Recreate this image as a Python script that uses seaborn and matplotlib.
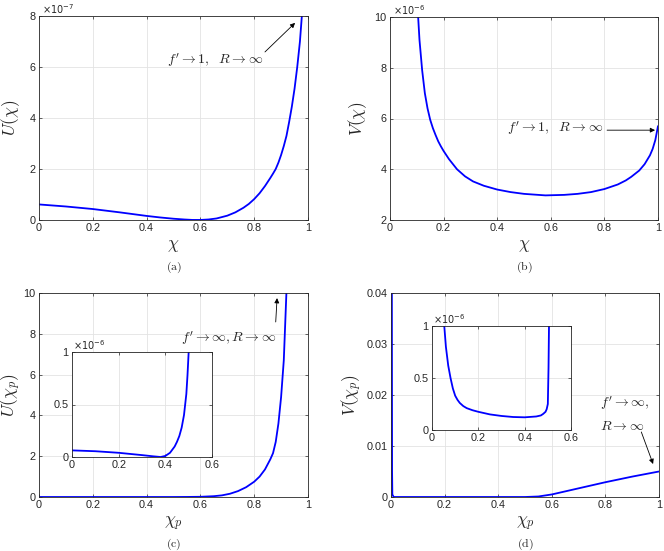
import numpy as np
import pandas as pd
import matplotlib
matplotlib.use('Agg')
import matplotlib.pyplot as plt
from matplotlib.ticker import FuncFormatter
import seaborn as sns

# ── data (y in the units shown on each axis) ────────────────────────────────
chi_a = [0, 0.1, 0.2, 0.3, 0.4, 0.45, 0.5, 0.54, 0.57, 0.6, 0.63, 0.66, 0.7,
         0.73, 0.76, 0.78, 0.8, 0.82, 0.84, 0.86, 0.87, 0.88, 0.89, 0.9, 0.91,
         0.92, 0.93, 0.94, 0.95, 0.96, 0.97, 0.975, 0.98]
U_a = [0.61, 0.53, 0.43, 0.3, 0.16, 0.1, 0.05, 0.02, 0.003, 0.002, 0.02, 0.06,
       0.17, 0.3, 0.48, 0.63, 0.82, 1.05, 1.33, 1.65, 1.82, 2.0, 2.25, 2.55,
       2.9, 3.3, 3.85, 4.45, 5.15, 6.0, 7.0, 7.7, 8.4]      # x 1e-7

chi_b = [0.105, 0.11, 0.12, 0.13, 0.14, 0.15, 0.16, 0.17, 0.18, 0.19, 0.2,
         0.22, 0.25, 0.28, 0.31, 0.35, 0.4, 0.45, 0.5, 0.58, 0.65, 0.7, 0.75,
         0.8, 0.85, 0.88, 0.9, 0.93, 0.95, 0.97, 0.98, 0.99, 1.0]
V_b = [10.0, 9.1, 7.9, 7.0, 6.4, 5.95, 5.62, 5.35, 5.1, 4.9, 4.72, 4.4, 4.0,
       3.72, 3.52, 3.35, 3.2, 3.1, 3.03, 2.97, 2.99, 3.03, 3.1, 3.22, 3.4,
       3.56, 3.7, 3.95, 4.2, 4.55, 4.8, 5.15, 5.7]          # x 1e-6

chi_c = [0, 0.5, 0.55, 0.6, 0.65, 0.68, 0.71, 0.74, 0.77, 0.8, 0.82, 0.84,
         0.85, 0.86, 0.87, 0.88, 0.89, 0.9, 0.91, 0.92]
U_c = [0, 0, 0.003, 0.01, 0.04, 0.08, 0.16, 0.29, 0.48, 0.75, 1.0, 1.35,
       1.6, 1.85, 2.15, 2.7, 3.6, 4.9, 6.7, 10.1]

chi_c_in = [0, 0.1, 0.2, 0.3, 0.35, 0.38, 0.4, 0.42, 0.44, 0.45, 0.46, 0.47,
            0.48, 0.49, 0.495, 0.5]
U_c_in = [0.063, 0.055, 0.04, 0.018, 0.006, 0.0, 0.01, 0.04, 0.1, 0.145, 0.2,
          0.28, 0.4, 0.6, 0.78, 1.0]                          # x 1e-6

chi_d = [0.003, 0.004, 0.005, 0.01, 0.3, 0.5, 0.55, 0.6, 0.65, 0.7, 0.8,
         0.9, 1.0]
V_d = [0.05, 0.005, 0.0005, 0.0, 0.0, 0.0, 0.0001, 0.0005, 0.0011, 0.0017,
       0.0029, 0.004, 0.005]

chi_d_in = [0.053, 0.06, 0.07, 0.08, 0.09, 0.1, 0.11, 0.12, 0.135, 0.15,
            0.175, 0.2, 0.25, 0.3, 0.35, 0.4, 0.45, 0.47, 0.48, 0.49, 0.495,
            0.5, 0.503, 0.505]
V_d_in = [1.0, 0.8, 0.62, 0.5, 0.4, 0.33, 0.29, 0.26, 0.23, 0.21, 0.19,
          0.175, 0.15, 0.135, 0.125, 0.122, 0.13, 0.14, 0.155, 0.175, 0.2,
          0.25, 0.6, 1.0]                                      # x 1e-6

# ── style ────────────────────────────────────────────────────────────────────
sns.set_style('ticks')
plt.rcParams['font.family'] = ['Liberation Sans', 'DejaVu Sans']
plt.rcParams['mathtext.fontset'] = 'cm'

EDGE = '#262626'
fmt = FuncFormatter(lambda v, p: f'{v:g}')
TFS = 7.8      # tick labels
LFS = 12.5     # axis labels
AFS = 10       # annotations


def style(ax, xlim, ylim, xt, yt, fs=TFS):
    ax.set_xlim(*xlim)
    ax.set_ylim(*ylim)
    ax.set_xticks(xt)
    ax.set_yticks(yt)
    ax.xaxis.set_major_formatter(fmt)
    ax.yaxis.set_major_formatter(fmt)
    ax.grid(True, color='#e3e3e3', lw=0.6)
    ax.set_axisbelow(True)
    ax.tick_params(direction='in', length=2.5, width=0.5, labelsize=fs,
                   top=True, right=True, colors=EDGE, pad=2.5)
    for s in ax.spines.values():
        s.set_visible(True)
        s.set_color(EDGE)
        s.set_linewidth(0.6)


def labels(ax, xl, yl, yx):
    ax.set_xlabel(xl, fontsize=LFS, labelpad=3)
    ax.set_ylabel(yl, fontsize=LFS)
    ax.yaxis.set_label_coords(yx, 0.5)


def exponent(ax, txt, fs=7):
    ax.text(0.01, 1.0, txt, transform=ax.transAxes, ha='left', va='bottom',
            fontsize=fs, color=EDGE, math_fontfamily='dejavusans')


def curve(ax, x, y, lw=1.3):
    sns.lineplot(x=x, y=y, ax=ax, color='blue', lw=lw, estimator=None,
                 sort=False)


arrow = dict(arrowstyle='-|>', color='k', lw=0.6, mutation_scale=7,
             shrinkA=0, shrinkB=0)

fig = plt.figure(figsize=(6.64, 5.51), dpi=100)
W, H = 664, 551


def add_axes(l, t, r, b):
    return fig.add_axes([l / W, 1 - b / H, (r - l) / W, (b - t) / H])


def sublabel(x, y, s):
    fig.text(x / W, 1 - y / H, r'$\mathrm{(' + s + r')}$', ha='center',
             va='center', fontsize=8.5)


# (a)
ax = add_axes(39, 16, 308, 220)
curve(ax, chi_a, U_a)
style(ax, (0, 1), (0, 8), np.arange(0, 1.01, 0.2), [0, 2, 4, 6, 8])
exponent(ax, r'$\times10^{-7}$')
labels(ax, r'$\chi$', r'$U(\chi)$', -0.065)
ax.text(0.654, 6.27, r"$f' \rightarrow 1,\ \ R \rightarrow \infty$",
        ha='center', va='center', fontsize=AFS)
ax.annotate('', xy=(0.952, 7.73), xytext=(0.84, 6.59), arrowprops=arrow)
sublabel(173.5, 267, 'a')

# (b)
ax = add_axes(390, 17, 658, 220)
curve(ax, chi_b, V_b)
style(ax, (0, 1), (2, 10), np.arange(0, 1.01, 0.2), [2, 4, 6, 8, 10])
exponent(ax, r'$\times10^{-6}$')
labels(ax, r'$\chi$', r'$V(\chi)$', -0.08)
ax.text(0.616, 5.62, r"$f' \rightarrow 1,\ \ R \rightarrow \infty$",
        ha='center', va='center', fontsize=AFS)
ax.annotate('', xy=(0.989, 5.54), xytext=(0.81, 5.54), arrowprops=arrow)
sublabel(524, 267, 'b')

# (c)
ax = add_axes(39, 293, 308, 497)
curve(ax, chi_c, U_c)
style(ax, (0, 1), (0, 10), np.arange(0, 1.01, 0.2), [0, 2, 4, 6, 8, 10])
labels(ax, r'$\chi_p$', r'$U(\chi_p)$', -0.06)
ax.text(0.703, 7.8, r"$f' \rightarrow \infty, R \rightarrow \infty$",
        ha='center', va='center', fontsize=AFS)
ax.annotate('', xy=(0.885, 9.75), xytext=(0.88, 8.58), arrowprops=arrow)
sublabel(173.5, 544, 'c')

ins = add_axes(72, 352, 212, 457)
ins.set_facecolor('white')
curve(ins, chi_c_in, U_c_in)
style(ins, (0, 0.6), (0, 1), [0, 0.2, 0.4, 0.6], [0, 0.5, 1])
exponent(ins, r'$\times10^{-6}$')

# (d)
ax = add_axes(391, 293, 659, 497)
curve(ax, chi_d, V_d)
style(ax, (0, 1), (0, 0.04), np.arange(0, 1.01, 0.2),
      [0, 0.01, 0.02, 0.03, 0.04])
labels(ax, r'$\chi_p$', r'$V(\chi_p)$', -0.1)
ax.text(0.78, 0.01843, r"$f' \rightarrow \infty,$", ha='left', va='center',
        fontsize=AFS)
ax.text(0.78, 0.0139, r"$R \rightarrow \infty$", ha='left', va='center',
        fontsize=AFS)
ax.annotate('', xy=(0.978, 0.00647), xytext=(0.934, 0.01275),
            arrowprops=arrow)
sublabel(525, 544, 'd')

ins = add_axes(432, 326, 571, 430)
ins.set_facecolor('white')
curve(ins, chi_d_in, V_d_in)
style(ins, (0, 0.6), (0, 1), [0, 0.2, 0.4, 0.6], [0, 0.5, 1])
exponent(ins, r'$\times10^{-6}$')

fig.savefig('out.png', dpi=100, facecolor='white')
